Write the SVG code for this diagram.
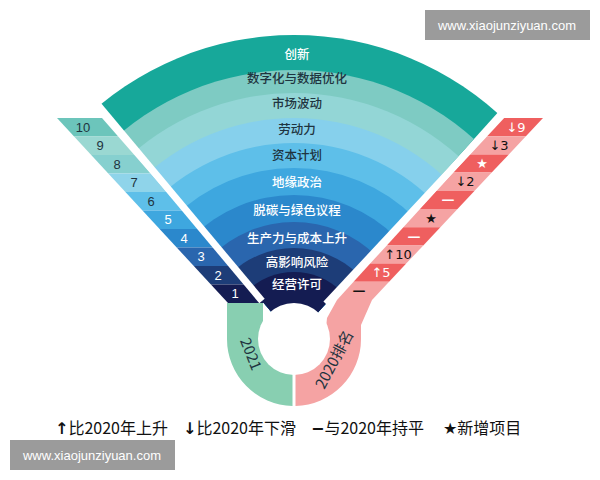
<svg xmlns="http://www.w3.org/2000/svg" width="600" height="480" viewBox="0 0 600 480">
<style>
text{font-family:"Noto Sans CJK SC","Liberation Sans",sans-serif}
.bl{font-size:12.5px;text-anchor:middle;font-weight:500}
.dk{fill:#1f3440}
.wt{fill:#ffffff}
.num{font-family:"Liberation Sans","DejaVu Sans",sans-serif;font-size:13px;text-anchor:middle}
.sym{font-family:"DejaVu Sans","Noto Sans CJK SC",sans-serif;font-size:13px;text-anchor:middle}
.wm{font-family:"Liberation Sans",sans-serif;font-size:13px;fill:#fff}
.gap{stroke:#fff;stroke-width:7}
</style>
<defs>
<clipPath id="wedge"><polygon points="294,339 36.9,32.6 36.9,0 561.6,0 561.6,41.8"/></clipPath>
</defs>
<rect width="600" height="480" fill="#fff"/>
<g id="fan" clip-path="url(#wedge)">
<circle cx="294" cy="339" r="304" fill="#17a89a"/>
<circle cx="294" cy="339" r="269" fill="#7ecbc3"/>
<circle cx="294" cy="339" r="246" fill="#93d6d6"/>
<circle cx="294" cy="339" r="221" fill="#86d0ec"/>
<circle cx="294" cy="339" r="196" fill="#5ebfe9"/>
<circle cx="294" cy="339" r="171" fill="#3ea7df"/>
<circle cx="294" cy="339" r="144" fill="#2b88cc"/>
<circle cx="294" cy="339" r="117" fill="#2a66ae"/>
<circle cx="294" cy="339" r="91" fill="#1d3d78"/>
<circle cx="294" cy="339" r="67" fill="#141c52"/>
</g>
<g id="left-strip">
<polygon points="57,118 102,118 118.2,136.5 74.1,136.5" fill="#6cc5bb"/>
<polygon points="74.1,136.5 118.2,136.5 134.4,155 91.2,155" fill="#9ad8d2"/>
<polygon points="91.2,155 134.4,155 150.6,173.5 108.3,173.5" fill="#86d0cf"/>
<polygon points="108.3,173.5 150.6,173.5 166.8,192 125.4,192" fill="#8fd4ea"/>
<polygon points="125.4,192 166.8,192 183,210.5 142.5,210.5" fill="#5ebfe9"/>
<polygon points="142.5,210.5 183,210.5 199.2,229 159.6,229" fill="#3ea7df"/>
<polygon points="159.6,229 199.2,229 215.4,247.5 176.7,247.5" fill="#2b88cc"/>
<polygon points="176.7,247.5 215.4,247.5 231.6,266 193.8,266" fill="#2a66ae"/>
<polygon points="193.8,266 231.6,266 247.8,284.5 210.9,284.5" fill="#1d3d78"/>
<polygon points="210.9,284.5 247.8,284.5 264,303 228,303" fill="#141c52"/>
</g>
<g id="right-strip">
<polygon points="503,118 543,118 525.9,136.2 486.4,136.2" fill="#ef5f5f"/>
<polygon points="486.4,136.2 525.9,136.2 508.8,154.4 469.8,154.4" fill="#f5a3a3"/>
<polygon points="469.8,154.4 508.8,154.4 491.7,172.6 453.2,172.6" fill="#ef5f5f"/>
<polygon points="453.2,172.6 491.7,172.6 474.6,190.8 436.6,190.8" fill="#f5a3a3"/>
<polygon points="436.6,190.8 474.6,190.8 457.5,209 420,209" fill="#ef5f5f"/>
<polygon points="420,209 457.5,209 440.4,227.2 403.4,227.2" fill="#f5a3a3"/>
<polygon points="403.4,227.2 440.4,227.2 423.3,245.4 386.8,245.4" fill="#ef5f5f"/>
<polygon points="386.8,245.4 423.3,245.4 406.2,263.6 370.2,263.6" fill="#f5a3a3"/>
<polygon points="370.2,263.6 406.2,263.6 389.1,281.8 353.6,281.8" fill="#ef5f5f"/>
<polygon points="353.6,281.8 389.1,281.8 372,300 337,300" fill="#f5a3a3"/>
</g>
<g id="ring-2021">
<path d="M227,303 L263,303 L263,339 A31,31 0 0 0 292.5,370 L292.5,406 A67,67 0 0 1 227,339 Z" fill="#88cfb1"/>
</g>
<g id="ring-2020">
<path d="M337,300 L372,300 L361,325 L361,339 A67,67 0 0 1 295.5,406 L295.5,370 A31,31 0 0 0 325,339 L327,318 Z" fill="#f5a3a3"/>
</g>
<g id="gaps">
<line class="gap" x1="262" y1="301" x2="88" y2="93"/>
<line class="gap" x1="326" y1="304" x2="520" y2="96"/>
<circle cx="294" cy="339" r="36" fill="#fff"/>
</g>
<g id="band-labels">
<text class="bl wt" x="297" y="59">创新</text>
<text class="bl dk" x="297" y="83">数字化与数据优化</text>
<text class="bl dk" x="297" y="108">市场波动</text>
<text class="bl dk" x="297" y="134">劳动力</text>
<text class="bl dk" x="297" y="160">资本计划</text>
<text class="bl wt" x="297" y="187">地缘政治</text>
<text class="bl wt" x="297" y="215">脱碳与绿色议程</text>
<text class="bl wt" x="297" y="243">生产力与成本上升</text>
<text class="bl wt" x="297" y="267">高影响风险</text>
<text class="bl wt" x="297" y="289">经营许可</text>
</g>
<g id="strip-labels">
<text class="num dk" x="83" y="132">10</text>
<text class="num dk" x="100" y="150">9</text>
<text class="num dk" x="117" y="169">8</text>
<text class="num dk" x="134" y="187">7</text>
<text class="num dk" x="151" y="206">6</text>
<text class="num wt" x="168" y="224">5</text>
<text class="num wt" x="184" y="243">4</text>
<text class="num wt" x="201" y="261">3</text>
<text class="num wt" x="218" y="280">2</text>
<text class="num wt" x="235" y="298">1</text>
<text class="sym wt" x="516" y="132">↓9</text>
<text class="sym" x="499" y="150" fill="#111">↓3</text>
<text class="sym wt" x="482" y="168">★</text>
<text class="sym" x="465" y="186" fill="#111">↓2</text>
<text class="sym wt" x="448" y="204" font-weight="bold">—</text>
<text class="sym" x="431" y="223" fill="#111">★</text>
<text class="sym wt" x="414" y="241" font-weight="bold">—</text>
<text class="sym" x="398" y="259" fill="#111">↑10</text>
<text class="sym wt" x="381" y="277">↑5</text>
<text class="sym" x="359" y="295" fill="#111" font-weight="bold">—</text>
<text x="246" y="356" font-size="15" fill="#1f3440" text-anchor="middle" transform="rotate(68 246 356)">2021</text>
<text x="339" y="362" font-size="15" fill="#1f3440" text-anchor="middle" transform="rotate(-62 339 362)">2020排名</text>
</g>
<g id="legend" font-size="16" fill="#111">
<text x="55" y="434"><tspan font-family="DejaVu Sans" font-weight="bold">↑</tspan>比2020年上升</text>
<text x="183" y="434"><tspan font-family="DejaVu Sans" font-weight="bold">↓</tspan>比2020年下滑</text>
<text x="311" y="434"><tspan font-family="DejaVu Sans" font-weight="bold">−</tspan>与2020年持平</text>
<text x="443" y="434"><tspan font-family="DejaVu Sans">★</tspan>新增项目</text>
</g>
<g id="watermarks">
<rect x="425" y="10" width="165" height="30" fill="#9b9b9b"/>
<text class="wm" x="507" y="30" text-anchor="middle">www.xiaojunziyuan.com</text>
<rect x="10" y="440" width="165" height="30" fill="#9b9b9b"/>
<text class="wm" x="92" y="460" text-anchor="middle">www.xiaojunziyuan.com</text>
</g>
</svg>
